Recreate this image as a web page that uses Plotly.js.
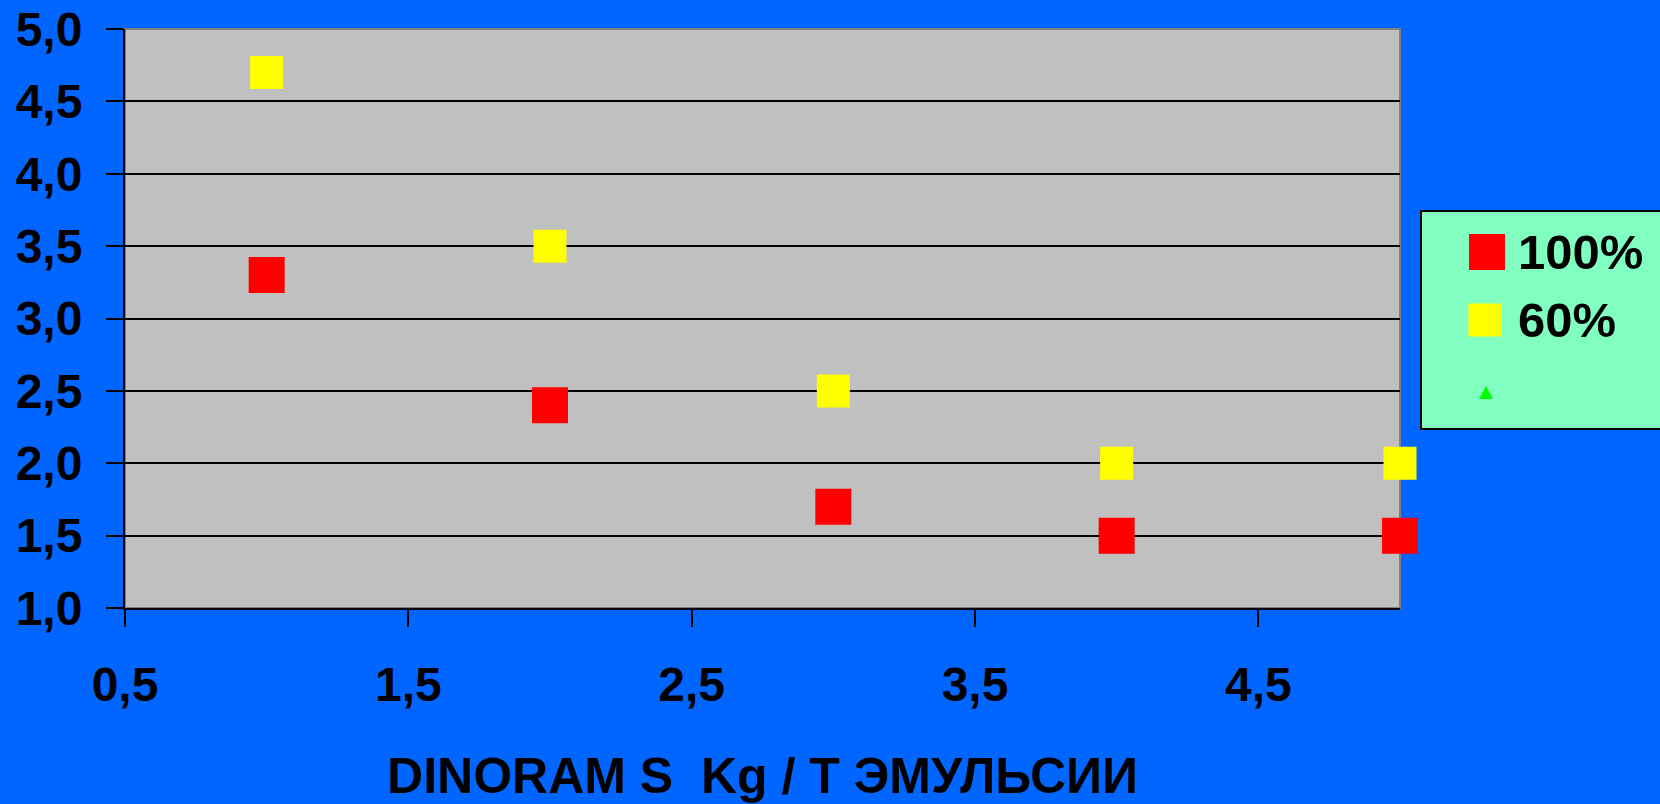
<!DOCTYPE html>
<html>
<head>
<meta charset="utf-8">
<script src="https://cdn.plot.ly/plotly-3.0.1.min.js"></script>
<style>html,body{margin:0;padding:0;background:#0066FF;}#chart{width:1660px;height:804px;}</style>
</head>
<body>
<div id="chart"></div>
<script>
// ---- data ----
var doses = [1, 2, 3, 4, 5];
var series100 = [3.3, 2.4, 1.7, 1.5, 1.5];
var series60 = [4.7, 3.5, 2.5, 2.0, 2.0];
var series3 = [];
var seriesNames = ['100%', '60%', ''];
var xTickVals = [0.5, 1.5, 2.5, 3.5, 4.5];
var yTickVals = [1.0, 1.5, 2.0, 2.5, 3.0, 3.5, 4.0, 4.5, 5.0];
var xTitle = 'DINORAM S  Kg / Т ЭМУЛЬСИИ';

// ---- style ----
var W = 1660, H = 804;
var M = {l: 125, r: 260, t: 29, b: 196};
var FONT = 'Liberation Sans, Arial, sans-serif';
var colors = ['#FF0000', '#FFFF00', '#00FF00'];
var symbols = ['square', 'square', 'triangle-up'];
var sizes = [36, 33, 14];

function px2x(px) { return (px - M.l) / (W - M.l - M.r); }
function px2y(py) { return (H - M.b - py) / (H - M.t - M.b); }

var seriesY = [series100, series60, series3];
var traces = seriesY.map(function (ys, i) {
  return {
    type: 'scatter', mode: 'markers',
    x: ys.length ? doses : [], y: ys,
    name: seriesNames[i],
    cliponaxis: false,
    marker: {symbol: symbols[i], size: sizes[i], color: colors[i], line: {width: 0}},
    showlegend: false
  };
});

// custom legend (large symbols)
var shapes = [
  {type: 'rect', xref: 'paper', yref: 'paper', x0: 0, x1: 1, y0: 0, y1: 1,
   line: {color: '#808080', width: 2}, layer: 'below'},
  {type: 'rect', xref: 'paper', yref: 'paper',
   x0: px2x(1421), x1: px2x(1664), y0: px2y(429), y1: px2y(211),
   fillcolor: '#80FFC0', line: {color: '#000000', width: 2}}
];
var annotations = [];
var rowY = [252, 320, 393];
var symX = [1487, 1485, 1486];
seriesNames.forEach(function (nm, i) {
  var h = sizes[i] / 2;
  if (symbols[i] === 'square') {
    shapes.push({type: 'rect', xref: 'paper', yref: 'paper',
      xsizemode: 'pixel', ysizemode: 'pixel',
      xanchor: px2x(symX[i]), yanchor: px2y(rowY[i]),
      x0: -h, x1: h, y0: -h, y1: h,
      fillcolor: colors[i], line: {width: 0}});
  } else {
    shapes.push({type: 'path', xref: 'paper', yref: 'paper',
      xsizemode: 'pixel', ysizemode: 'pixel',
      xanchor: px2x(symX[i]), yanchor: px2y(rowY[i]),
      path: 'M -7 -6 L 7 -6 L 0 7 Z',
      fillcolor: colors[i], line: {width: 0}});
  }
  if (nm) {
    annotations.push({xref: 'paper', yref: 'paper', x: px2x(1516), y: px2y(rowY[i]),
      xanchor: 'left', yanchor: 'middle', showarrow: false, text: nm,
      font: {family: FONT, size: 49, color: '#000000', weight: 'bold'}});
  }
});

var layout = {
  width: W, height: H,
  paper_bgcolor: '#0066FF', plot_bgcolor: '#C0C0C0',
  margin: {l: M.l, r: M.r, t: M.t, b: M.b, pad: 0, autoexpand: false},
  separators: ', ',
  showlegend: false,
  xaxis: {
    range: [0.5, 5.0], tickmode: 'array', tickvals: xTickVals, tickformat: '.1f',
    ticks: 'outside', ticklen: 17, tickwidth: 2, tickcolor: '#000000',
    showline: true, linecolor: '#000000', linewidth: 2,
    showgrid: false, zeroline: false, automargin: false,
    ticklabelstandoff: 16,
    tickfont: {family: FONT, size: 48, color: '#000000', weight: 'bold'},
    title: {text: xTitle, standoff: 52, font: {family: FONT, size: 50, color: '#000000', weight: 'bold'}}
  },
  yaxis: {
    range: [1.0, 5.0], tickmode: 'array', tickvals: yTickVals, tickformat: '.1f',
    ticks: 'outside', ticklen: 17, tickwidth: 2, tickcolor: '#000000',
    showline: true, linecolor: '#000000', linewidth: 2,
    showgrid: true, gridcolor: '#000000', gridwidth: 2,
    zeroline: false, automargin: false,
    ticklabelstandoff: 14,
    tickfont: {family: FONT, size: 48, color: '#000000', weight: 'bold'}
  },
  shapes: shapes,
  annotations: annotations
};

Plotly.newPlot('chart', traces, layout, {staticPlot: true, displayModeBar: false});
</script>
</body>
</html>
